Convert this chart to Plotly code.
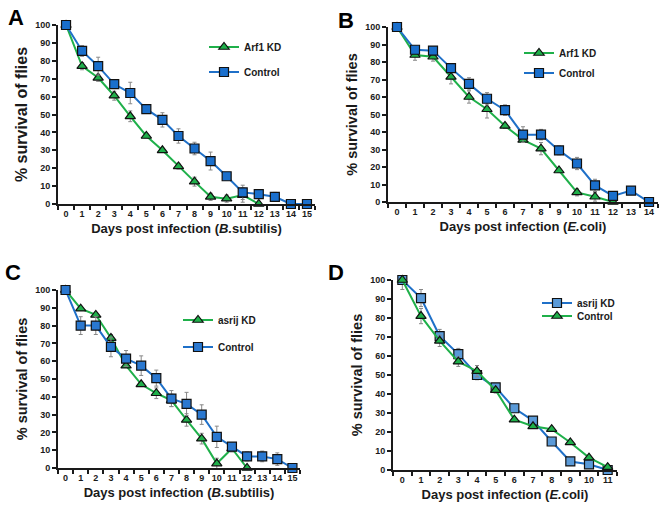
import plotly.graph_objects as go

W, H = 660, 512

# Panel A - B.subtilis, Arf1 KD vs Control
a_days_kd = list(range(13))
a_kd = [100, 77, 70.5, 60.5, 49, 38, 30, 21, 12.5, 4, 3, 5, 0]
a_kd_err = [0, 2, 2, 2.5, 3, 1, 1, 1.5, 2.5, 2, 2, 4, 0]
a_days_ctl = list(range(16))
a_ctl = [100, 85.5, 77, 67, 62, 53, 47, 38, 31, 24, 15.5, 6.5, 5.5, 4, 0, 0]
a_ctl_err = [0, 3, 5, 2.5, 6, 1, 4, 4, 3.5, 5, 2, 4, 2.5, 2.5, 0, 0]

# Panel B - E.coli, Arf1 KD vs Control
b_days_kd = list(range(13))
b_kd = [100, 84, 83, 71.5, 60, 53, 43.5, 35.5, 30.5, 18, 5.5, 3, 0]
b_kd_err = [0, 3, 2.5, 4, 3.5, 5, 1.5, 1.5, 3.5, 1, 2, 2.5, 0]
b_days_ctl = list(range(15))
b_ctl = [100, 87, 86.5, 76.5, 67.5, 59, 52.5, 38.5, 38.5, 29.5, 22, 9.5, 3.5, 6.5, 0]
b_ctl_err = [0, 2, 1, 2, 3.5, 3.5, 3, 4.5, 3, 2.5, 3.5, 3.5, 0, 0, 0]

# Panel C - B.subtilis, asrij KD vs Control
c_days_kd = list(range(13))
c_kd = [100, 89.5, 86, 73, 57.5, 47, 42, 38, 27, 16.5, 2.5, 11, 0]
c_kd_err = [0, 1, 1, 2, 1, 1, 3, 3.5, 3.5, 3, 3, 2, 0]
c_days_ctl = list(range(16))
c_ctl = [100, 80, 80, 68, 61.5, 57.5, 50.5, 39, 36, 30, 17.5, 12, 6.5, 6.5, 5, 0]
c_ctl_err = [0, 5, 5, 5.5, 4.5, 5.5, 4.5, 4.5, 6.5, 5.5, 6, 2, 2.5, 3, 3.5, 0]

# Panel D - E.coli, asrij KD vs Control
d_days = list(range(12))
d_kd = [100, 90.5, 70.5, 61, 50, 43.5, 32.5, 26, 15, 4.5, 3, 0]
d_kd_err = [5, 4.5, 3.5, 3, 2.5, 2, 1, 1, 1, 1, 1, 0]
d_ctl = [100, 81, 68, 57, 52, 42, 26.5, 23, 21.5, 14.5, 6.5, 1.5]
d_ctl_err = [0, 4, 3, 2.5, 3, 1.5, 1, 1, 1, 1, 1, 1]

GREEN = "#1fb04a"
BLUE = "#1f70c8"
FONT = "Liberation Sans, Arial, sans-serif"
INK = "#1a1a1a"


def px_x(p):
    return p / W


def px_y(p):
    return 1 - p / H


# pixel boxes of the four plot areas: (left, right, top, bottom)
panels = [
    dict(box=(58, 315, 25, 204), n=16, pathogen="B.", rest="subtilis", letter="A", lx=6, ly=17, ysize=16),
    dict(box=(388, 658, 27, 202), n=15, pathogen="E.", rest="coli", letter="B", lx=336, ly=20, ysize=14.5),
    dict(box=(58, 300, 290, 468), n=16, pathogen="B.", rest="subtilis", letter="C", lx=3, ly=272, ysize=14.5),
    dict(box=(393, 617, 280, 470), n=12, pathogen="E.", rest="coli", letter="D", lx=326, ly=272, ysize=14.5),
]

series = [
    # (panel, name, days, values, errors, line colour, marker, fill, legend x/y px)
    (0, "Arf1 KD", a_days_kd, a_kd, a_kd_err, GREEN, "triangle-up", GREEN, (204, 47)),
    (0, "Control", a_days_ctl, a_ctl, a_ctl_err, BLUE, "square", "#1a6fcc", (204, 72)),
    (1, "Arf1 KD", b_days_kd, b_kd, b_kd_err, GREEN, "triangle-up", GREEN, (519, 53)),
    (1, "Control", b_days_ctl, b_ctl, b_ctl_err, BLUE, "square", "#1a6fcc", (519, 73)),
    (2, "asrij KD", c_days_kd, c_kd, c_kd_err, GREEN, "triangle-up", GREEN, (178, 320)),
    (2, "Control", c_days_ctl, c_ctl, c_ctl_err, BLUE, "square", "#2a78d0", (178, 347)),
    (3, "asrij KD", d_days, d_kd, d_kd_err, BLUE, "square", "#5a9ad8", (537, 303)),
    (3, "Control", d_days, d_ctl, d_ctl_err, GREEN, "triangle-up", GREEN, (537, 316)),
]

fig = go.Figure()
layout = dict(
    width=W, height=H, margin=dict(l=0, r=0, t=0, b=0, autoexpand=False),
    paper_bgcolor="white", plot_bgcolor="white", showlegend=True,
    font=dict(family=FONT, color=INK),
    annotations=[],
)

for i, p in enumerate(panels):
    l, r, t, b = p["box"]
    k = "" if i == 0 else str(i + 1)
    n = p["n"]
    layout["xaxis" + k] = dict(
        domain=[px_x(l), px_x(r)], anchor="y" + k, automargin=False,
        range=[-0.5, n - 0.5], tickmode="array", tickvals=list(range(n)),
        ticks="", showgrid=False, zeroline=False,
        showline=True, linecolor=INK, linewidth=2,
        tickfont=dict(size=9, family=FONT, color=INK, weight="bold"),
        minor=dict(tickmode="array", tickvals=[j - 0.5 for j in range(n + 1)],
                   ticks="outside", ticklen=4, tickcolor=INK, tickwidth=2, showgrid=False),
        title=dict(text="Days post infection (<i>" + p["pathogen"] + "</i>" + p["rest"] + ")",
                   font=dict(size=13, family=FONT, color=INK, weight="bold"), standoff=6),
        fixedrange=True,
    )
    layout["yaxis" + k] = dict(
        domain=[px_y(b), px_y(t)], anchor="x" + k, automargin=False,
        range=[0, 100], tickmode="array", tickvals=list(range(0, 101, 10)),
        ticks="outside", ticklen=4, tickcolor=INK, tickwidth=2,
        showgrid=False, zeroline=False,
        showline=True, linecolor=INK, linewidth=2,
        tickfont=dict(size=9, family=FONT, color=INK, weight="bold"),
        title=dict(text="% survival of flies",
                   font=dict(size=p["ysize"], family=FONT, color=INK, weight="bold"), standoff=4),
        fixedrange=True,
    )
    layout["annotations"].append(dict(
        text=p["letter"], x=px_x(p["lx"]), y=px_y(p["ly"]), xref="paper", yref="paper",
        xanchor="left", yanchor="middle", showarrow=False,
        font=dict(size=22, family=FONT, color="black", weight="bold"),
    ))

# one legend per series so each entry sits where the reference puts it
for j, (pi, name, days, vals, errs, col, sym, fill, (lxp, lyp)) in enumerate(series):
    k = "" if pi == 0 else str(pi + 1)
    lk = "legend" if j == 0 else "legend" + str(j + 1)
    layout[lk] = dict(
        x=px_x(lxp), y=px_y(lyp), xanchor="left", yanchor="middle",
        bgcolor="rgba(0,0,0,0)", borderwidth=0, itemwidth=30,
        font=dict(size=10, family=FONT, color=INK, weight="bold"),
    )
    fig.add_trace(go.Scatter(
        x=days, y=vals, name=name, mode="lines+markers",
        xaxis="x" + k, yaxis="y" + k, legend=lk,
        line=dict(color=col, width=2),
        marker=dict(symbol=sym, size=9, color=fill, line=dict(color="#111", width=1.2)),
        error_y=dict(type="data", array=errs, visible=True, color="#888", thickness=1, width=2),
        cliponaxis=False,
    ))

fig.update_layout(**layout)
# the page's default body margin would push the figure 8px down and right
fig.write_html("out.html", config={"displayModeBar": False},
               post_script="document.body.style.margin='0';")
